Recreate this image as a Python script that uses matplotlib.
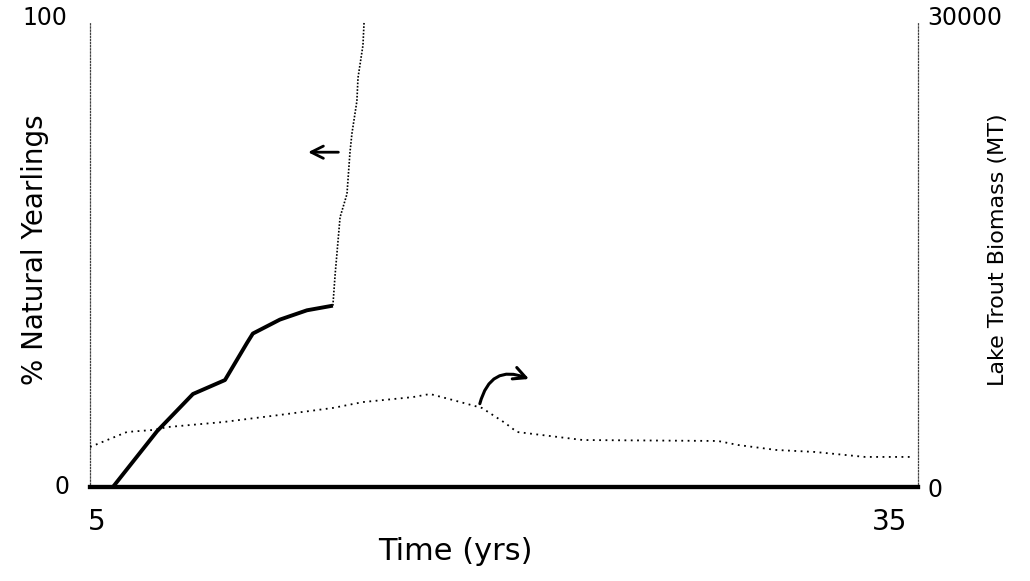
import numpy as np
import matplotlib
matplotlib.use("Agg")
import matplotlib.pyplot as plt

# % natural yearlings (left axis), solid part then steep dotted part
years_low = [5.0, 5.83, 7.43, 8.73, 9.89, 10.69, 10.9, 11.88, 12.86, 13.8]
pct_low = [0, 0, 12, 20, 23, 31, 33, 36, 38, 39]
years_high = [13.8, 13.88, 14.06, 14.31, 14.42, 14.49, 14.67, 14.71, 14.89, 14.93]
pct_high = [39, 45.6, 58, 63, 72, 76, 83, 88, 95, 100]

# lake trout biomass (right axis, MT)
years_bio = [5.0, 6.34, 7.28, 7.83, 9.82, 11.88, 13.8, 14.89, 16.7, 17.32, 18.15,
             19.2, 20.04, 20.47, 22.86, 27.75, 28.48, 29.86, 31.27, 33.08, 34.86]
biomass = [2580, 3550, 3680, 3870, 4190, 4650, 5100, 5480, 5800, 6000, 5610,
           5100, 4130, 3550, 3030, 2970, 2710, 2390, 2260, 1940, 1940]

fig = plt.figure(figsize=(10.3, 5.81), dpi=100)
ax = fig.add_axes([90 / 1030, 1 - 487 / 581, 828 / 1030, 465 / 581])
ax2 = ax.twinx()

ax.plot(years_low, pct_low, color='black', lw=2.8, solid_capstyle='butt')
ax.plot(years_high, pct_high, color='black', lw=1.2, ls=(0, (1, 1)))
ax2.plot(years_bio, biomass, color='black', lw=1.3, ls=(0, (1, 2.5)))

ax.set_xlim(5, 35)
ax.set_ylim(0, 100)
ax2.set_ylim(0, 30000)

ax.spines['right'].set_visible(False)
ax2.spines['left'].set_visible(False)
for a in (ax, ax2):
    a.set_xticks([])
    a.set_yticks([])
    a.spines['top'].set_visible(False)
    a.spines['bottom'].set_linewidth(3)
for sp in (ax.spines['left'], ax2.spines['right']):
    sp.set_linestyle((0, (1, 1.5)))
    sp.set_linewidth(0.9)
    sp.set_color('0.25')

# hand-lettered tick labels
fs = 17
fig.text(45 / 1030, 1 - 18 / 581, '100', fontsize=fs, ha='center', va='center')
fig.text(62 / 1030, 1 - 487 / 581, '0', fontsize=fs, ha='center', va='center')
fig.text(97 / 1030, 1 - 522 / 581, '5', fontsize=fs + 3, ha='center', va='center')
fig.text(890 / 1030, 1 - 522 / 581, '35', fontsize=fs + 3, ha='center', va='center')
fig.text(965 / 1030, 1 - 18 / 581, '30000', fontsize=fs, ha='center', va='center')
fig.text(935 / 1030, 1 - 490 / 581, '0', fontsize=fs, ha='center', va='center')

fig.text(455 / 1030, 1 - 552 / 581, 'Time (yrs)', fontsize=22, ha='center', va='center')
fig.text(35 / 1030, 1 - 250 / 581, '% Natural Yearlings', fontsize=20,
         rotation=90, ha='center', va='center')
fig.text(998 / 1030, 1 - 250 / 581, 'Lake Trout Biomass (MT)', fontsize=16,
         rotation=90, ha='center', va='center')

# arrows pointing to each curve's axis
ax.annotate('', xy=(12.8, 72), xytext=(14.1, 72),
            arrowprops=dict(arrowstyle='->', lw=2, color='black', mutation_scale=22))
ax2.annotate('', xy=(21.0, 6900), xytext=(19.1, 5200),
             arrowprops=dict(arrowstyle='->', lw=2.2, color='black', mutation_scale=22,
                             connectionstyle='arc3,rad=-0.6'))

fig.savefig('out.png', dpi=100)
